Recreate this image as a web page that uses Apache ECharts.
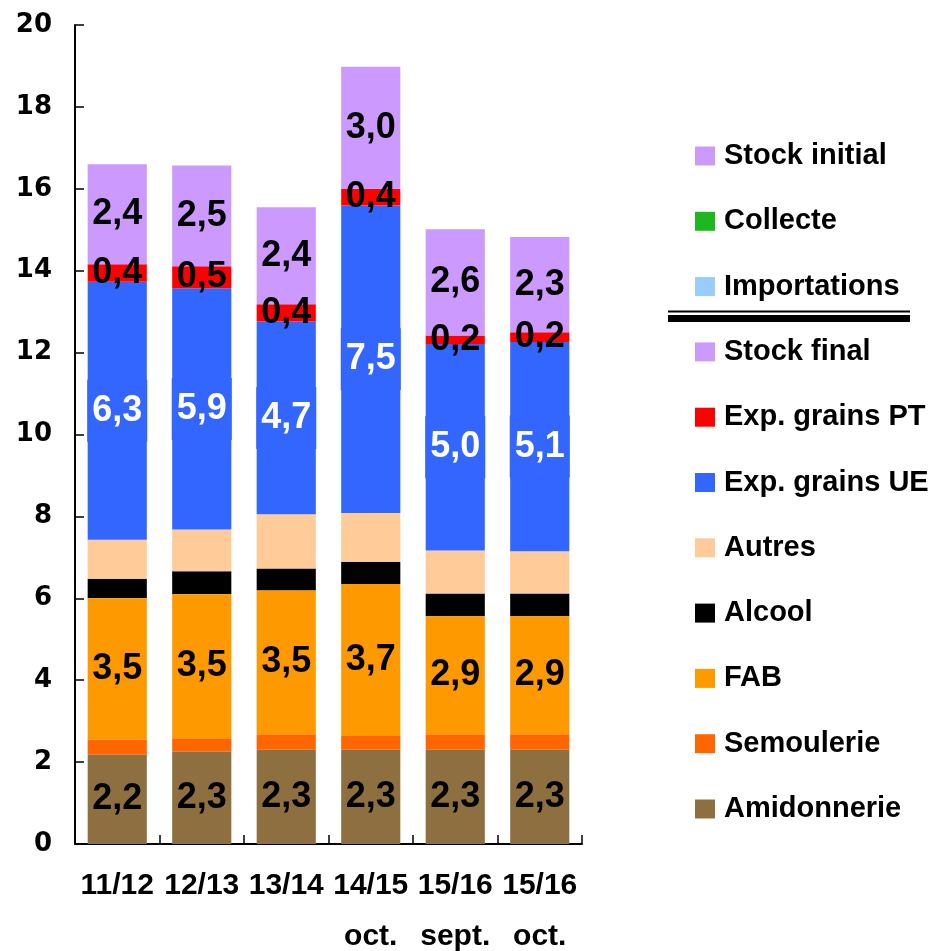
<!DOCTYPE html>
<html>
<head>
<meta charset="utf-8">
<script src="https://cdn.jsdelivr.net/npm/echarts@6/dist/echarts.min.js"></script>
<style>
html,body{margin:0;padding:0;background:#fff;}
#c{width:936px;height:951px;}
</style>
</head>
<body>
<div id="c"></div>
<script>
// ---- data ----
var categories = ['11/12', '12/13', '13/14', '14/15\noct.', '15/16\nsept.', '15/16\noct.'];
var amidonnerie = [2.18, 2.26, 2.3, 2.3, 2.3, 2.3];
var semoulerie  = [0.37, 0.32, 0.38, 0.34, 0.38, 0.38];
var fab         = [3.45, 3.52, 3.51, 3.71, 2.88, 2.88];
var alcool      = [0.48, 0.56, 0.54, 0.54, 0.56, 0.56];
var autres      = [0.95, 1.02, 1.32, 1.19, 1.05, 1.03];
var expUE       = [6.3, 5.89, 4.71, 7.51, 5.04, 5.11];
var expPT       = [0.43, 0.54, 0.42, 0.41, 0.21, 0.24];
var stockFinal  = [2.44, 2.46, 2.37, 2.98, 2.59, 2.32];
var yTicks = {min: 0, max: 20, interval: 2};
var legendOrder = ['Stock initial', 'Collecte', 'Importations', 'Stock final', 'Exp. grains PT',
  'Exp. grains UE', 'Autres', 'Alcool', 'FAB', 'Semoulerie', 'Amidonnerie'];

var FONT = '"Liberation Sans", Arial, sans-serif';
function fmt(p) { return p.value.toFixed(1).replace('.', ','); }
function lbl(color, extra) {
  var o = {show: true, position: 'inside', formatter: fmt, color: color,
    fontFamily: FONT, fontWeight: 'bold', fontSize: 36};
  if (extra) for (var k in extra) o[k] = extra[k];
  return o;
}
function bar(name, data, color, label) {
  return {name: name, type: 'bar', stack: 'total', data: data, barCategoryGap: '30%',
    itemStyle: {color: color}, label: label || {show: false}, z: label ? 3 : 2};
}

var chart = echarts.init(document.getElementById('c'), null, {renderer: 'canvas'});
chart.setOption({
  backgroundColor: '#ffffff',
  animation: false,
  grid: {left: 75, top: 25, width: 507, bottom: 107, containLabel: false, outerBoundsMode: 'none'},
  xAxis: {
    type: 'category', data: categories,
    axisLine: {lineStyle: {color: '#000', width: 2}},
    axisTick: {show: true, inside: true, length: 9, lineStyle: {color: '#000', width: 1.5}},
    axisLabel: {color: '#000', fontFamily: FONT, fontWeight: 'bold', fontSize: 30,
      lineHeight: 51, margin: 16, interval: 0}
  },
  yAxis: {
    type: 'value', min: yTicks.min, max: yTicks.max, interval: yTicks.interval,
    splitLine: {show: false},
    axisLine: {show: true, lineStyle: {color: '#000', width: 2}},
    axisTick: {show: true, inside: true, length: 9, lineStyle: {color: '#000', width: 1.5}},
    axisLabel: {color: '#000', fontFamily: '"DejaVu Sans", sans-serif', fontWeight: 'bold',
      fontSize: 26, margin: 23}
  },
  legend: {
    orient: 'vertical', left: 695, top: 141, padding: 0, data: legendOrder,
    icon: 'rect', itemWidth: 20, itemHeight: 19, itemGap: 35.3,
    selectedMode: false,
    textStyle: {color: '#000', fontFamily: FONT, fontWeight: 'bold', fontSize: 29,
      lineHeight: 30, padding: [0, 0, 0, 4]}
  },
  graphic: [
    {type: 'rect', shape: {x: 668, y: 310.5, width: 242, height: 2}, style: {fill: '#000'}},
    {type: 'rect', shape: {x: 668, y: 315, width: 242, height: 7}, style: {fill: '#000'}}
  ],
  series: [
    bar('Amidonnerie', amidonnerie, '#8E7040', lbl('#000')),
    bar('Semoulerie', semoulerie, '#FF6600'),
    bar('FAB', fab, '#FF9900', lbl('#000')),
    bar('Alcool', alcool, '#000000'),
    bar('Autres', autres, '#FFCC99'),
    bar('Exp. grains UE', expUE, '#3366FF', lbl('#fff', {backgroundColor: '#3366FF', padding: [13, 5]})),
    bar('Exp. grains PT', expPT, '#FF0000', lbl('#000')),
    bar('Stock final', stockFinal, '#CC99FF', lbl('#000')),
    {name: 'Importations', type: 'bar', stack: 'total', data: [], itemStyle: {color: '#99CCFF'}},
    {name: 'Collecte', type: 'bar', stack: 'total', data: [], itemStyle: {color: '#1FB71F'}},
    {name: 'Stock initial', type: 'bar', stack: 'total', data: [], itemStyle: {color: '#CC99FF'}}
  ]
});
</script>
</body>
</html>
